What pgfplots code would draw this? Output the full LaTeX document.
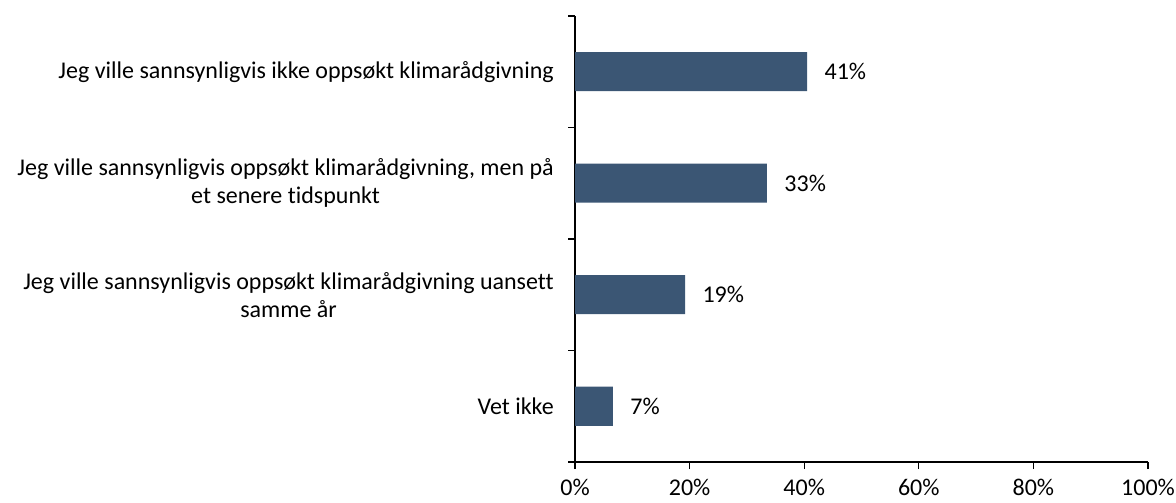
\documentclass[border=0pt]{standalone}
\usepackage{fontspec}
\setmainfont{Carlito}[Ligatures=NoCommon]
\usepackage{pgfplots}
\pgfplotsset{compat=1.18}
\definecolor{barc}{RGB}{59,86,116}
\begin{document}
\begin{tikzpicture}
\begin{axis}[
  at={(575bp,41bp)}, anchor=south west,
  scale only axis, width=573bp, height=446bp,
  xbar, bar width=39bp,
  xmin=0, xmax=100, ymin=-0.5, ymax=3.5,
  axis x line*=bottom, axis y line*=left,
  axis line style={black, line width=1.3bp},
  tick align=outside,
  major tick length=7bp,
  tick style={black, line width=1.3bp},
  xtick={0,20,40,60,80,100},
  xticklabels={0\%,20\%,40\%,60\%,80\%,100\%},
  xticklabel style={font=\fontsize{24bp}{28bp}\selectfont, inner sep=0pt, yshift=-10bp},
  ytick={-0.5,0.5,1.5,2.5,3.5},
  yticklabels={},
  extra y ticks={0,1,2,3},
  extra y tick labels={Vet ikke,
    Jeg ville sannsynligvis oppsøkt klimarådgivning uansett\\samme år,
    Jeg ville sannsynligvis oppsøkt klimarådgivning{,} men på\\et senere tidspunkt,
    Jeg ville sannsynligvis ikke oppsøkt klimarådgivning},
  extra y tick style={major tick length=0pt},
  yticklabel style={font=\fontsize{24bp}{28bp}\selectfont, align=center, inner sep=0pt, xshift=-21bp},
  nodes near coords,
  point meta=explicit symbolic,
  nodes near coords style={font=\fontsize{24bp}{28bp}\selectfont, anchor=west, xshift=14bp, black},
  clip=false,
]
\addplot[fill=barc, draw=none] coordinates {
  (6.6,0) [7\%]
  (19.2,1) [19\%]
  (33.5,2) [33\%]
  (40.5,3) [41\%]
};
\end{axis}
\pgfresetboundingbox
\useasboundingbox (0,0) rectangle (1176bp,503bp);
\end{tikzpicture}
\end{document}
